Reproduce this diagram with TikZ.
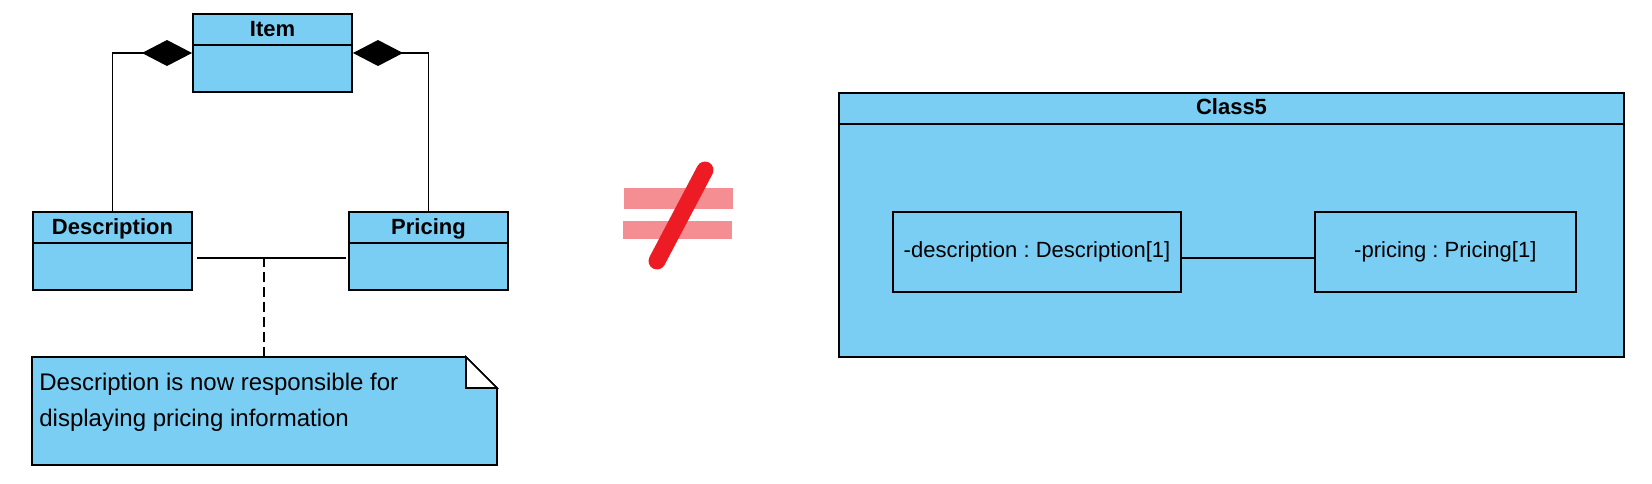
\documentclass[tikz,border=0pt]{standalone}
\usepackage{fontspec}
\setmainfont{Liberation Sans}
\usepackage{xcolor}
\usetikzlibrary{arrows.meta}
\definecolor{umlblue}{RGB}{122,206,244}
\definecolor{nered}{RGB}{237,28,36}
\definecolor{nebar}{RGB}{245,142,147}
\frenchspacing

\begin{document}
\begin{tikzpicture}[x=0.5pt,y=-0.5pt]
\tikzstyle{classbox} =[draw, fill=umlblue, line width=1pt, anchor=north west, inner sep=0pt, minimum width=79.5pt, minimum height=39pt]
\tikzstyle{classname} =[font=\bfseries\fontsize{11}{13}\selectfont, inner sep=0pt, anchor=base]
\tikzstyle{attrbox} =[draw, fill=umlblue, line width=0.8pt, anchor=north west, inner sep=0pt, minimum height=40pt, font=\fontsize{11}{13}\selectfont]
\tikzset{assoc/.style={line width=0.7pt}, compo/.style={line width=0.7pt,-{Diamond[length=25pt,width=13pt]}}}

\useasboundingbox (0,0) rectangle (1652,483);

% left side
\node[classbox](item) at (192,13){};
\node[classname](itemname) at ([yshift=-11.6pt]item.north){Item};
\draw[line width=1pt] ([yshift=-16pt]item.north west) -- ([yshift=-16pt]item.north east);

\node[classbox](desc) at (32,211){};
\node[classname](descname) at ([yshift=-11.8pt]desc.north){Description};
\draw[line width=1pt] ([yshift=-16pt]desc.north west) -- ([yshift=-16pt]desc.north east);

\node[classbox](pricing) at (348,211){};
\node[classname](pricingname) at ([yshift=-11.8pt]pricing.north){Pricing};
\draw[line width=1pt] ([yshift=-16pt]pricing.north west) -- ([yshift=-16pt]pricing.north east);

\draw[compo] (desc.north) |- ([yshift=-20pt]item.north west);
\draw[compo] (pricing.north) |- ([yshift=-20pt]item.north east);
\draw[assoc] ([xshift=2pt,yshift=-3.5pt]desc.east) -- ([xshift=-1pt,yshift=-3.5pt]pricing.west);

% note
\draw[fill=umlblue, line width=0.8pt] (32,357) -- (466,357) -- (497,388) -- (497,465) -- (32,465) -- cycle;
\draw[fill=white, line width=0.8pt] (466,357) -- (466,388) -- (497,388) -- cycle;
\node[anchor=north west, inner sep=0pt, align=left, font=\fontsize{12}{18}\selectfont](note) at (39,373)
  {Description is now responsible for\\displaying pricing information};
\coordinate (am) at (264,257);
\coordinate (notetop) at (264,357);
\draw[line width=0.7pt, dash pattern=on 5pt off 2.5pt] (am) -- (notetop);

% not equal
\fill[nebar] (624,188) rectangle (733,209);
\fill[nebar] (623,221) rectangle (732,239);
\draw[nered, line width=8.5pt, line cap=round] (657,261) -- (705,170);

% right side
\node[classbox, minimum width=392.5pt, minimum height=131.8pt](class5) at (838,92){};
\node[classname](class5name) at ([yshift=-11.3pt]class5.north){Class5};
\draw[line width=1pt] ([yshift=-15.8pt]class5.north west) -- ([yshift=-15.8pt]class5.north east);

\node[attrbox, minimum width=144.2pt](attrdesc) at (892,211){-description : Description[1]};
\node[attrbox, minimum width=130.5pt](attrpricing) at (1314,211){-pricing : Pricing[1]};
\draw[assoc] ([yshift=-3pt]attrdesc.east) -- ([yshift=-3pt]attrpricing.west);
\end{tikzpicture}
\end{document}
